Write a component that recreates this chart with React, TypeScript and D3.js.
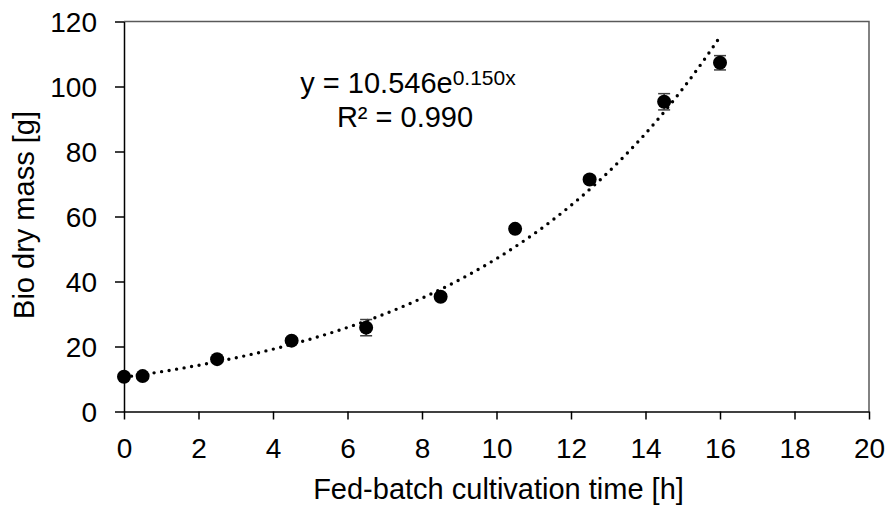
import React, { useEffect, useRef } from "react";
import * as d3 from "d3";

const times = [0, 0.5, 2.5, 4.5, 6.5, 8.5, 10.5, 12.5, 14.5, 16];
const mass = [10.7, 10.9, 16.1, 21.8, 25.8, 35.3, 56.2, 71.4, 95.3, 107.3];
const errors = [0.4, 0.4, 0.6, 0.8, 2.5, 0.9, 0.9, 1.0, 2.5, 2.2];
const xTicks = [0, 2, 4, 6, 8, 10, 12, 14, 16, 18, 20];
const yTicks = [0, 20, 40, 60, 80, 100, 120];
const fitCoef = [10.546, 0.1495];
const fitRange = [0, 16];
const xTitle = "Fed-batch cultivation time [h]";
const yTitle = "Bio dry mass [g]";
const eqMain = "y = 10.546e";
const eqExp = "0.150x";
const eqR2 = "R² = 0.990";

export default function App() {
  const ref = useRef<SVGSVGElement | null>(null);

  useEffect(() => {
    const svg = d3.select(ref.current);
    svg.selectAll("*").remove();
    const W = 888, H = 506;
    const left = 124, right = 869, top = 21.5, bottom = 411.5;
    const font = "'Liberation Sans', Arial, sans-serif";

    const x = d3.scaleLinear().domain([0, 20]).range([left, right]);
    const y = d3.scaleLinear().domain([0, 120]).range([bottom, top]);

    svg.append("rect").attr("width", W).attr("height", H).attr("fill", "#fff");

    // plot border (top & right)
    svg.append("path")
      .attr("d", `M${left},${top}H${right}V${bottom}`)
      .attr("fill", "none").attr("stroke", "#595959").attr("stroke-width", 1.5);

    // axes
    const xAxis = svg.append("g").attr("transform", `translate(0,${bottom})`)
      .call(d3.axisBottom(x).tickValues(xTicks).tickSize(8).tickSizeOuter(0).tickPadding(6).tickFormat(d3.format("d")));
    const yAxis = svg.append("g").attr("transform", `translate(${left},0)`)
      .call(d3.axisLeft(y).tickValues(yTicks).tickSize(9).tickSizeOuter(0).tickPadding(18).tickFormat(d3.format("d")));
    [xAxis, yAxis].forEach((g) => {
      g.select(".domain").attr("stroke", "#000").attr("stroke-width", 1.5);
      g.selectAll(".tick line").attr("stroke", "#000").attr("stroke-width", 1.5);
      g.selectAll(".tick text").attr("fill", "#000").attr("font-size", 28).attr("font-family", font);
    });
    xAxis.selectAll(".tick text").attr("dy", "0").attr("y", 46);
    yAxis.selectAll(".tick text").attr("dy", "0.36em");

    // trendline
    const fitX = d3.range(fitRange[0], fitRange[1] + 0.001, 0.1);
    const line = d3.line<number>().x((d) => x(d)).y((d) => y(fitCoef[0] * Math.exp(fitCoef[1] * d))).curve(d3.curveLinear);
    svg.append("path").attr("d", line(fitX) as string)
      .attr("fill", "none").attr("stroke", "#000").attr("stroke-width", 3.4)
      .attr("stroke-linecap", "round").attr("stroke-dasharray", "0 7.6");

    // error bars
    const eb = svg.append("g").attr("stroke", "#404040").attr("stroke-width", 1.5);
    times.forEach((t, i) => {
      const cx = x(t);
      const y1 = y(mass[i] + errors[i]);
      const y2 = y(mass[i] - errors[i]);
      eb.append("line").attr("x1", cx).attr("x2", cx).attr("y1", y1).attr("y2", y2);
      eb.append("line").attr("x1", cx - 6).attr("x2", cx + 6).attr("y1", y1).attr("y2", y1);
      eb.append("line").attr("x1", cx - 6).attr("x2", cx + 6).attr("y1", y2).attr("y2", y2);
    });

    // markers
    svg.append("g").selectAll("circle").data(times).join("circle")
      .attr("cx", (d) => x(d)).attr("cy", (_d, i) => y(mass[i])).attr("r", 7).attr("fill", "#000");

    // equation
    const eq = svg.append("text").attr("x", 408).attr("y", 93).attr("text-anchor", "middle")
      .attr("font-family", font).attr("font-size", 29).attr("fill", "#000");
    eq.append("tspan").text(eqMain);
    eq.append("tspan").attr("font-size", 21).attr("dy", -8).text(eqExp);
    svg.append("text").attr("x", 405).attr("y", 127).attr("text-anchor", "middle")
      .attr("font-family", font).attr("font-size", 29).attr("fill", "#000").text(eqR2);

    // titles
    svg.append("text").attr("x", (left + right) / 2 + 2).attr("y", 499).attr("text-anchor", "middle")
      .attr("font-family", font).attr("font-size", 29).attr("fill", "#000").text(xTitle);
    svg.append("text").attr("transform", `translate(34,215) rotate(-90)`).attr("text-anchor", "middle")
      .attr("font-family", font).attr("font-size", 29).attr("fill", "#000").text(yTitle);
  }, []);

  return (
    <svg ref={ref} width={888} height={506} style={{ position: "absolute", left: 0, top: 0 }} />
  );
}
